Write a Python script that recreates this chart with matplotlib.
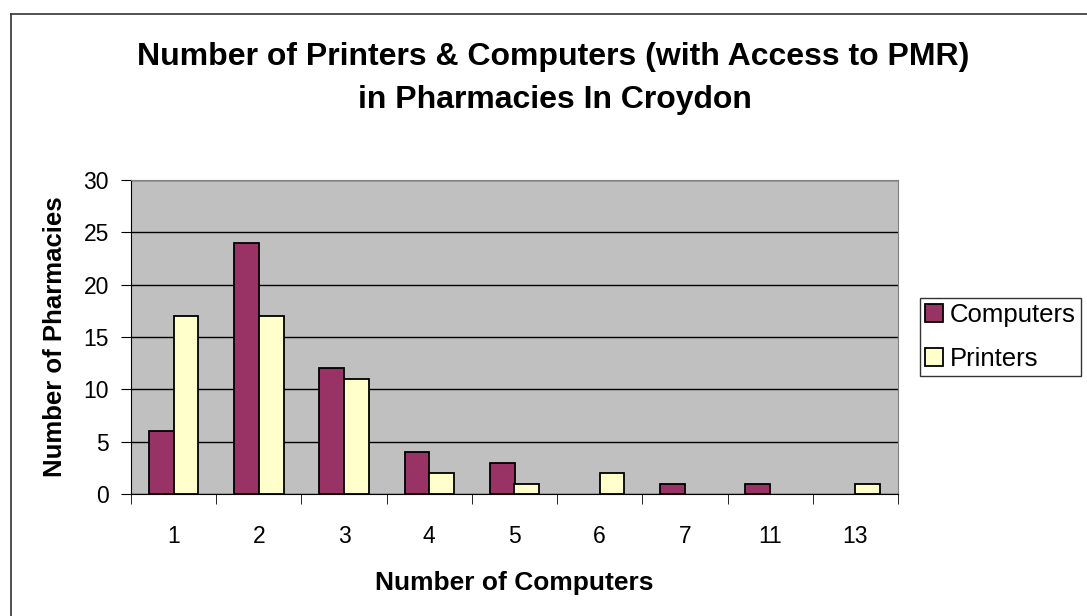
import numpy as np
import matplotlib; matplotlib.use('Agg')
import matplotlib.pyplot as plt
from matplotlib.lines import Line2D

plt.rcParams['font.family'] = ['Liberation Sans', 'DejaVu Sans']

categories = ['1', '2', '3', '4', '5', '6', '7', '11', '13']
computers = [6, 24, 12, 4, 3, 0, 1, 1, 0]
printers = [17, 17, 11, 2, 1, 2, 0, 0, 1]

W, H = 1087, 616
fig = plt.figure(figsize=(W / 100, H / 100), dpi=100)
# outer frame: only left and top edges are visible in the source picture
fig.add_artist(Line2D([11 / W, 11 / W], [0, 1 - 14 / H], transform=fig.transFigure,
                      color='#333333', linewidth=1.2))
fig.add_artist(Line2D([11 / W, 1], [1 - 14 / H, 1 - 14 / H], transform=fig.transFigure,
                      color='#333333', linewidth=1.2))

ax = fig.add_axes([131 / W, 1 - 494 / H, (898 - 131) / W, (494 - 180) / H])
ax.set_facecolor('#C0C0C0')

x = np.arange(len(categories))
w = 0.29
ax.bar(x - w/2, computers, w, color='#993366', edgecolor='black',
       linewidth=[1.3 if v else 0 for v in computers], label='Computers', zorder=3)
ax.bar(x + w/2, printers, w, color='#FFFFCC', edgecolor='black',
       linewidth=[1.3 if v else 0 for v in printers], label='Printers', zorder=3)

ax.set_xlim(-0.5, len(categories) - 0.5)
ax.set_ylim(0, 30)
ax.set_yticks(range(0, 31, 5))
ax.yaxis.grid(True, color='black', linewidth=1)
ax.set_axisbelow(True)
ax.set_xticks(x)
ax.set_xticklabels(categories)
ax.set_xticks(np.arange(-0.5, len(categories)), minor=True)
ax.tick_params(axis='x', which='major', length=0, labelsize=16.5, pad=22)
ax.tick_params(axis='x', which='minor', length=7, direction='out')
ax.tick_params(axis='y', length=7, direction='out', labelsize=16.5, pad=9)
for s in ['top', 'right']:
    ax.spines[s].set_color('#808080')

ax.set_xlabel('Number of Computers', fontsize=19, fontweight='bold', labelpad=17)
ax.set_ylabel('Number of Pharmacies', fontsize=18.5, fontweight='bold', labelpad=12)
fig.text(553 / W, 1 - 57 / H, 'Number of Printers & Computers (with Access to PMR)',
         fontsize=23, fontweight='bold', ha='center', va='center')
fig.text(555 / W, 1 - 100 / H, 'in Pharmacies In Croydon',
         fontsize=23, fontweight='bold', ha='center', va='center')

leg = ax.legend(loc='center left', bbox_to_anchor=((920 - 131) / (898 - 131), 0.5),
                fontsize=18.5, frameon=True, fancybox=False, edgecolor='black',
                handlelength=0.7, handleheight=0.7, handletextpad=0.25, borderpad=0.2,
                labelspacing=0.75, borderaxespad=0)
leg.get_frame().set_linewidth(1)

fig.savefig('out.png', dpi=100)
